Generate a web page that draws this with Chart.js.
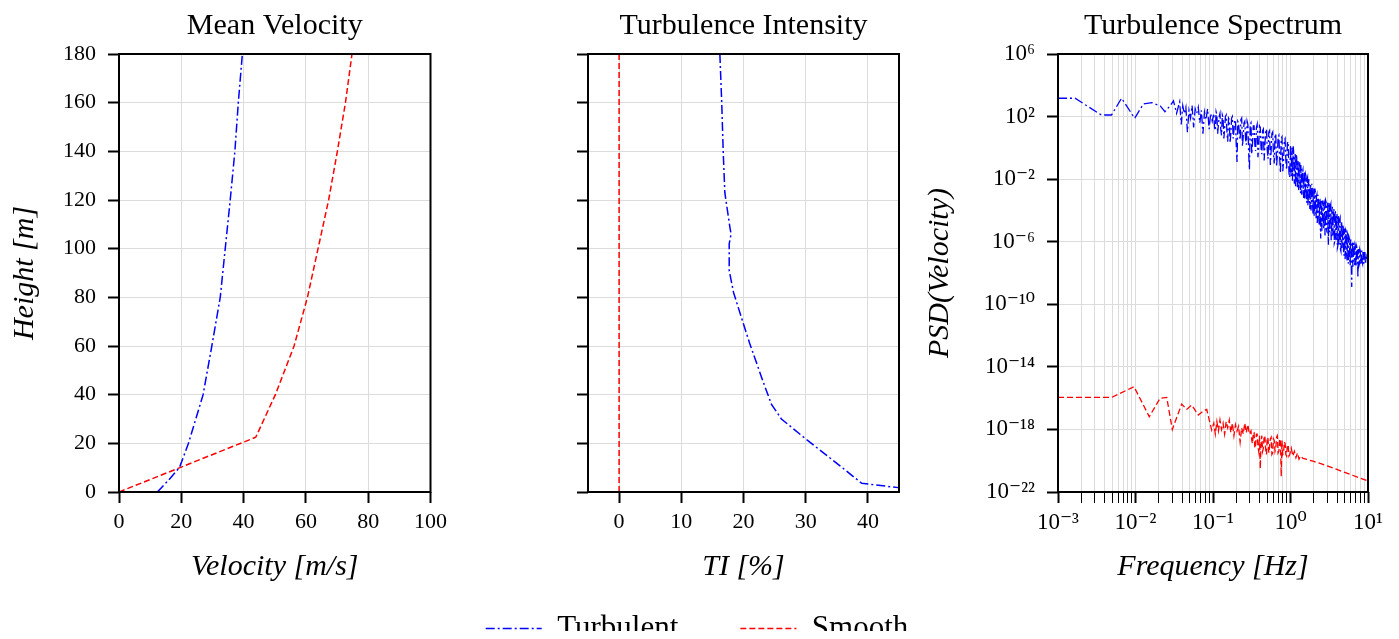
<!DOCTYPE html>
<html>
<head>
<meta charset="utf-8">
<title>Wind profiles</title>
<script src="https://cdn.jsdelivr.net/npm/chart.js@4.4.0/dist/chart.umd.min.js"></script>
<style>
  html, body { margin: 0; padding: 0; background: #fff; }
  #wrap { position: relative; width: 1399px; height: 639px; overflow: hidden; }
  canvas { position: absolute; }
</style>
</head>
<body>
<div id="wrap">
  <canvas id="velChart" width="453" height="589" style="left:0;top:0"></canvas>
  <canvas id="tiChart" width="450" height="589" style="left:470px;top:0"></canvas>
  <canvas id="psdChart" width="499" height="589" style="left:900px;top:0"></canvas>
  <canvas id="legendChart" width="640" height="160" style="left:377px;top:551px"></canvas>
</div>
<script>
// --- mean velocity profiles ---
const turbHeight = [0, 5, 10, 20, 40, 60, 80, 100, 120, 140, 160, 180];
const turbVelocity = [12.3, 16.0, 19.4, 22.3, 27.0, 29.8, 32.5, 34.1, 35.7, 37.2, 38.3, 39.6];
const smoothHeight = [0, 22.5, 40, 60, 80, 100, 120, 140, 160, 180];
const smoothVelocity = [0, 43.9, 50.2, 56.2, 60.5, 63.9, 67.3, 70.1, 72.7, 74.8];

// --- turbulence intensity ---
const tiTurbHeight = [180, 160, 139, 123, 109, 106, 102, 91, 82, 69, 61, 45, 36, 30, 21.4, 11.8, 3.6, 1.8];
const tiTurb = [16.2, 16.5, 16.75, 17.0, 17.8, 18.0, 17.7, 17.7, 18.4, 20.0, 21.0, 23.2, 24.5, 26.1, 30.2, 35.0, 39.0, 44.9];
const tiSmoothHeight = [0, 180];
const tiSmooth = [0, 0];

// --- spectrum, stored as log10(frequency) and log10(PSD) ---
const turbLogFreq = [
  -3.0, -2.78, -2.44, -2.31, -2.18, -2.01, -1.9, -1.79, -1.68, -1.62, -1.555, -1.51, -1.47, -1.43,
  -1.41, -1.39, -1.37, -1.35, -1.33, -1.31, -1.29, -1.27, -1.25, -1.23,
  -1.21, -1.19, -1.17, -1.15, -1.13, -1.11, -1.09, -1.07, -1.05, -1.03, -1.01,
  -0.99, -0.98, -0.97, -0.96, -0.95, -0.94, -0.93, -0.92, -0.91, -0.90,
  -0.89, -0.88, -0.87, -0.86, -0.85, -0.84, -0.83, -0.82, -0.81, -0.80,
  -0.79, -0.78, -0.77, -0.76, -0.75, -0.74, -0.73, -0.72, -0.71, -0.70,
  -0.69, -0.68, -0.67, -0.66, -0.65, -0.64, -0.63, -0.62, -0.61, -0.60,
  -0.59, -0.58, -0.57, -0.56, -0.55, -0.54, -0.53, -0.52, -0.51, -0.50,
  -0.49, -0.48, -0.47, -0.46, -0.45, -0.44, -0.43, -0.42, -0.41, -0.40,
  -0.39, -0.38, -0.37, -0.36, -0.35, -0.34, -0.33, -0.32, -0.31, -0.30,
  -0.29, -0.28, -0.27, -0.26, -0.25, -0.24, -0.23, -0.22, -0.21, -0.20,
  -0.19, -0.18, -0.17, -0.16, -0.15, -0.14, -0.13, -0.12, -0.11, -0.10,
  -0.09, -0.08, -0.07, -0.06, -0.05, -0.04, -0.03, -0.02, -0.01,
  0.000, 0.005, 0.010, 0.015, 0.020, 0.025, 0.030, 0.035, 0.040, 0.045,
  0.050, 0.055, 0.060, 0.065, 0.070, 0.075, 0.080, 0.085, 0.090, 0.095,
  0.100, 0.105, 0.110, 0.115, 0.120, 0.125, 0.130, 0.135, 0.140, 0.145,
  0.150, 0.155, 0.160, 0.165, 0.170, 0.175, 0.180, 0.185, 0.190, 0.195,
  0.200, 0.205, 0.210, 0.215, 0.220, 0.225, 0.230, 0.235, 0.240, 0.245,
  0.250, 0.255, 0.260, 0.265, 0.270, 0.275, 0.280, 0.285, 0.290, 0.295,
  0.300, 0.305, 0.310, 0.315, 0.320, 0.325, 0.330, 0.335, 0.340, 0.345,
  0.350, 0.355, 0.360, 0.365, 0.370, 0.375, 0.380, 0.385, 0.390, 0.395,
  0.400, 0.405, 0.410, 0.415, 0.420, 0.425, 0.430, 0.435, 0.440, 0.445,
  0.450, 0.455, 0.460, 0.465, 0.470, 0.475, 0.480, 0.485, 0.490, 0.495,
  0.500, 0.505, 0.510, 0.515, 0.520, 0.525, 0.530, 0.535, 0.540, 0.545,
  0.550, 0.555, 0.560, 0.565, 0.570, 0.575, 0.580, 0.585, 0.590, 0.595,
  0.600, 0.605, 0.610, 0.615, 0.620, 0.625, 0.630, 0.635, 0.640, 0.645,
  0.650, 0.655, 0.660, 0.665, 0.670, 0.675, 0.680, 0.685, 0.690, 0.695,
  0.700, 0.705, 0.710, 0.715, 0.720, 0.725, 0.730, 0.735, 0.740, 0.745,
  0.750, 0.755, 0.760, 0.765, 0.770, 0.775, 0.780, 0.785, 0.790, 0.795,
  0.800, 0.805, 0.810, 0.815, 0.820, 0.825, 0.830, 0.835, 0.840, 0.845,
  0.850, 0.855, 0.860, 0.865, 0.870, 0.875, 0.880, 0.885, 0.890, 0.895,
  0.900, 0.905, 0.910, 0.915, 0.920, 0.925, 0.930, 0.935, 0.940, 0.945,
  0.950, 0.955, 0.960, 0.965, 0.970, 0.975, 0.980, 0.985, 0.990, 0.995,
  1.000
];
const turbLogPsd = [
  3.17, 3.17, 2.10, 2.10, 3.17, 1.89, 2.80, 2.89, 2.68, 2.31, 2.68, 3.01, 2.21, 2.95,
  1.5, 2.7, 2.2, 2.6, 1.0, 2.4, 1.9, 2.7, 1.3, 2.5,
  2.2, 2.6, 1.6, 2.4, 0.9, 2.3, 1.8, 2.5, 1.2, 2.2, 1.7,
  2.2, 1.3, 1.1, 2.3, 2.1, 0.9, 1.5, 2.0, 2.2, 1.2,
  0.8, 2.1, 1.9, 0.6, 1.2, 2.0, 2.1, 1.0, 0.4, 1.9,
  1.8, 0.3, 0.9, 1.9, 2.0, 0.6, 1.1, 1.8, 1.7, 0.2,
  -0.9, 1.7, 1.6, 0.9, 0.5, 1.8, 1.9, 0.1, 0.7, 1.6,
  1.7, 0.6, 0.2, 1.7, 1.5, -0.3, -1.4, 1.5, 1.6, -0.4,
  0.3, 1.4, 1.4, 0.2, -0.2, 1.3, 1.5, -0.6, 0.1, 1.4,
  1.3, 0.0, -0.4, 1.1, 1.2, -0.8, 0.2, 1.1, 1.2, -0.1,
  -0.7, 1.0, 1.1, -1.1, -0.2, 0.9, 1.0, -0.4, -1.0, 0.8,
  0.9, -1.2, -0.5, 0.7, 0.8, -0.6, -1.6, 0.6, 0.7, -1.5,
  -0.9, 0.5, 0.6, -0.8, -1.4, 0.3, 0.4, -1.6, -1.9,
  0.2, -1.5, -1.8, -0.3, 0.0, -2.1, -1.2, 0.1, -0.2, -1.7,
  -2.3, -0.7, -0.4, -2.5, -1.9, -0.4, -0.6, -2.0, -2.6, -1.0,
  -0.8, -2.7, -2.2, -0.9, -1.0, -2.4, -2.9, -1.1, -1.3, -3.0,
  -2.5, -1.5, -1.4, -2.7, -3.2, -1.5, -1.6, -3.3, -2.8, -1.7,
  -1.8, -3.0, -3.5, -2.0, -1.9, -3.7, -3.1, -2.0, -2.2, -3.4,
  -3.9, -2.4, -2.3, -4.0, -3.4, -2.3, -2.5, -3.6, -4.2, -2.7,
  -2.6, -4.4, -3.7, -2.6, -2.8, -4.1, -4.5, -3.1, -3.0, -4.8,
  -4.1, -3.0, -3.2, -4.5, -4.9, -3.3, -3.3, -5.0, -5.8, -3.3,
  -3.4, -5.3, -4.6, -3.4, -3.4, -4.9, -5.2, -3.6, -3.5, -5.6,
  -4.8, -3.4, -3.5, -5.1, -5.4, -3.7, -3.5, -5.5, -6.2, -3.5,
  -3.6, -5.4, -5.0, -3.7, -3.6, -5.9, -5.7, -3.8, -3.8, -5.6,
  -5.2, -3.9, -3.9, -6.1, -6.0, -4.0, -4.1, -5.9, -5.5, -4.3,
  -4.2, -6.4, -6.3, -4.3, -4.4, -6.2, -5.8, -4.6, -4.5, -6.5,
  -6.6, -4.7, -4.8, -6.4, -6.1, -4.9, -5.0, -6.7, -6.9, -5.2,
  -5.2, -7.1, -6.4, -5.3, -5.4, -6.9, -7.2, -5.5, -5.6, -7.4,
  -6.8, -5.7, -5.8, -7.2, -7.5, -5.9, -5.9, -7.4, -8.9, -6.0,
  -6.1, -7.6, -7.2, -6.1, -6.1, -7.3, -7.5, -6.2, -6.3, -7.6,
  -7.1, -6.3, -6.4, -7.2, -8.3, -6.5, -6.5, -7.5, -7.4, -6.5,
  -6.6, -7.4, -7.3, -6.6, -6.6, -7.3, -7.4, -6.7, -6.7, -7.4,
  -7.2, -6.7, -6.7, -7.3, -7.3, -6.8, -6.8, -7.2, -7.1, -6.9,
  -6.9
];
const smoothLogFreq = [
  -3.0, -2.307, -2.019, -1.822, -1.684, -1.597, -1.525, -1.404, -1.339, -1.275, -1.19, -1.12, -1.081, -1.017,
  -0.99, -0.97, -0.95, -0.93, -0.91, -0.89, -0.87, -0.85, -0.83, -0.81,
  -0.79, -0.77, -0.75, -0.73, -0.71, -0.69, -0.67, -0.65, -0.63, -0.61,
  -0.59, -0.57, -0.55, -0.53,
  -0.51, -0.50, -0.49, -0.48, -0.47, -0.46, -0.45, -0.44, -0.43, -0.42,
  -0.41, -0.40, -0.39, -0.38, -0.37, -0.36, -0.35, -0.34, -0.33, -0.32,
  -0.31, -0.30, -0.29, -0.28, -0.27, -0.26, -0.25, -0.24, -0.23, -0.22,
  -0.21, -0.20, -0.19, -0.18, -0.17, -0.16, -0.15, -0.14, -0.13, -0.12,
  -0.11, -0.10, -0.09, -0.08, -0.07, -0.06, -0.05, -0.04, -0.03, -0.02, -0.01,
  0.01, 0.03, 0.05, 0.07, 0.09, 0.11, 0.13, 0.16, 0.2, 0.3, 0.4, 0.5, 0.6, 0.7, 0.8, 0.9, 1.0
];
const smoothLogPsd = [
  -15.95, -15.95, -15.27, -17.19, -16.01, -15.95, -18.0, -16.38, -16.72, -16.44, -17.08, -16.8, -16.72, -18.04,
  -17.6, -18.3, -17.5, -18.1, -17.4, -18.0, -17.6, -18.3, -17.5, -17.9,
  -17.4, -18.2, -17.6, -18.4, -17.7, -18.1, -17.8, -18.8, -17.9, -18.3,
  -17.6, -18.2, -17.7, -18.3,
  -18.1, -18.7, -18.9, -18.2, -18.2, -19.2, -19.0, -18.3, -18.3, -19.1,
  -19.4, -18.4, -20.5, -18.9, -18.4, -19.4, -19.2, -18.4, -18.5, -19.3,
  -19.6, -18.5, -18.6, -19.5, -19.1, -18.6, -18.5, -19.6, -19.5, -18.6,
  -18.7, -19.4, -19.2, -18.5, -18.4, -19.5, -19.4, -18.7, -18.6, -21.0,
  -18.7, -19.6, -19.5, -18.8, -18.9, -19.6, -19.7, -19.0, -19.0, -19.7, -19.6,
  -19.2, -19.7, -19.4, -19.8, -19.5, -19.9, -19.7, -19.85, -19.9, -20.05, -20.2, -20.38, -20.56, -20.75, -20.93, -21.12, -21.3
];

// --- axis ticks ---
const heightTicks = [0, 20, 40, 60, 80, 100, 120, 140, 160, 180];
const velocityTicks = [0, 20, 40, 60, 80, 100];
const tiTicks = [0, 10, 20, 30, 40];
const freqMajorTicks = [1e-3, 1e-2, 1e-1, 1, 10];
const psdTicks = [1e-22, 1e-18, 1e-14, 1e-10, 1e-6, 1e-2, 1e2, 1e6];

const freqTicks = [];
freqMajorTicks.forEach((m, i) => {
  freqTicks.push(m);
  if (i < freqMajorTicks.length - 1) [2, 3, 4, 5, 6, 7, 8, 9].forEach(k => freqTicks.push(k * m));
});

const SUP = {'-': '\u207B', '0': '\u2070', '1': '\u00B9', '2': '\u00B2', '3': '\u00B3', '4': '\u2074',
             '5': '\u2075', '6': '\u2076', '7': '\u2077', '8': '\u2078', '9': '\u2079'};
const isDecade = v => Math.abs(Math.log10(v) - Math.round(Math.log10(v))) < 1e-9;
const powLabel = v => '10' + String(Math.round(Math.log10(v))).split('').map(c => SUP[c]).join('');

const SERIF = "'Liberation Serif', 'DejaVu Serif', serif";
Chart.defaults.font.family = SERIF;
Chart.defaults.color = '#000';

const turbStyle = { borderColor: '#0000ff', borderWidth: 1.5, borderDash: [9, 3, 2, 3], pointRadius: 0, fill: false };
const smoothStyle = { borderColor: '#ff0000', borderWidth: 1.5, borderDash: [6, 3], pointRadius: 0, fill: false };

// black box around each plot area
const frame = {
  id: 'frame',
  afterDraw(chart) {
    const { ctx, chartArea: a } = chart;
    ctx.save();
    ctx.strokeStyle = '#000';
    ctx.lineWidth = 2;
    ctx.strokeRect(a.left, a.top, a.right - a.left, a.bottom - a.top);
    ctx.restore();
  }
};

const gridStyle = { color: '#dcdcdc', lineWidth: 1, tickColor: '#000', tickWidth: 2, tickLength: 11 };
const tickFont = { size: 22 };
const axisTitleFont = { size: 30, style: 'italic' };

function xAxis(type, min, max, ticks, title, extra) {
  return Object.assign({
    type, min, max,
    afterBuildTicks: s => { s.ticks = ticks.map(v => ({ value: v })); },
    afterFit: s => { s.height = 97; },
    grid: gridStyle,
    border: { display: false },
    ticks: { font: tickFont, padding: 6, maxRotation: 0, autoSkip: false },
    title: { display: true, text: title, font: axisTitleFont, padding: { top: 0, bottom: 4 } }
  }, extra || {});
}

function yAxis(type, min, max, ticks, width, title, titlePad, extra) {
  return Object.assign({
    type, min, max,
    afterBuildTicks: s => { s.ticks = ticks.map(v => ({ value: v })); },
    afterFit: s => { s.width = width; },
    grid: gridStyle,
    border: { display: false },
    ticks: { font: tickFont, padding: 12, autoSkip: false },
    title: { display: !!title, text: title, font: axisTitleFont, padding: { top: titlePad, bottom: 0 } }
  }, extra || {});
}

function baseOptions(title, padRight) {
  return {
    animation: false,
    responsive: false,
    devicePixelRatio: 1,
    layout: { padding: { left: 0, right: padRight, top: 0, bottom: 0 } },
    plugins: {
      legend: { display: false },
      tooltip: { enabled: false },
      title: {
        display: true, text: title, fullSize: false, color: '#000',
        font: { size: 30, weight: 'normal' }, padding: { top: 8, bottom: 10 }
      }
    }
  };
}

// Mean velocity
const velOpts = baseOptions('Mean Velocity', 20);
velOpts.scales = {
  x: xAxis('linear', 0, 100, velocityTicks, 'Velocity [m/s]'),
  y: yAxis('linear', 0, 180, heightTicks, 119, 'Height [m]', 7)
};
new Chart(document.getElementById('velChart'), {
  type: 'line',
  data: {
    datasets: [
      Object.assign({ label: 'Turbulent', data: turbHeight.map((h, i) => ({ x: turbVelocity[i], y: h })) }, turbStyle),
      Object.assign({ label: 'Smooth', data: smoothHeight.map((h, i) => ({ x: smoothVelocity[i], y: h })) }, smoothStyle)
    ]
  },
  options: velOpts,
  plugins: [frame]
});

// Turbulence intensity
const tiOpts = baseOptions('Turbulence Intensity', 21);
tiOpts.scales = {
  x: xAxis('linear', -5, 45, tiTicks, 'TI [%]'),
  y: yAxis('linear', 0, 180, heightTicks, 118, '', 0, {
    ticks: { display: false }
  })
};
new Chart(document.getElementById('tiChart'), {
  type: 'line',
  data: {
    datasets: [
      Object.assign({ label: 'Turbulent', data: tiTurbHeight.map((h, i) => ({ x: tiTurb[i], y: h })) }, turbStyle),
      Object.assign({ label: 'Smooth', data: tiSmoothHeight.map((h, i) => ({ x: tiSmooth[i], y: h })) }, smoothStyle)
    ]
  },
  options: tiOpts,
  plugins: [frame]
});

// Turbulence spectrum
const psdTickFont = { size: 23 };
const psdOpts = baseOptions('Turbulence Spectrum', 31);
psdOpts.scales = {
  x: xAxis('logarithmic', 1e-3, 10, freqTicks, 'Frequency [Hz]', {
    grid: Object.assign({}, gridStyle, { tickWidth: c => (c.tick && isDecade(c.tick.value)) ? 2 : 1 }),
    ticks: { font: psdTickFont, padding: 6, maxRotation: 0, autoSkip: false,
             callback: v => isDecade(v) ? powLabel(v) : '' }
  }),
  y: yAxis('logarithmic', 1e-22, 1e6, psdTicks, 158, 'PSD(Velocity)', 22, {
    ticks: { font: psdTickFont, padding: 12, autoSkip: false, callback: v => powLabel(v) }
  })
};
new Chart(document.getElementById('psdChart'), {
  type: 'line',
  data: {
    datasets: [
      Object.assign({ label: 'Turbulent', data: turbLogFreq.map((f, i) => ({ x: 10 ** f, y: 10 ** turbLogPsd[i] })) },
                    turbStyle, { borderWidth: 1.3 }),
      Object.assign({ label: 'Smooth', data: smoothLogFreq.map((f, i) => ({ x: 10 ** f, y: 10 ** smoothLogPsd[i] })) },
                    smoothStyle, { borderWidth: 1.3 })
    ]
  },
  options: psdOpts,
  plugins: [frame]
});

// Shared legend
new Chart(document.getElementById('legendChart'), {
  type: 'line',
  data: {
    datasets: [
      Object.assign({ label: 'Turbulent', data: [] }, turbStyle),
      Object.assign({ label: 'Smooth', data: [] }, smoothStyle)
    ]
  },
  options: {
    animation: false,
    responsive: false,
    devicePixelRatio: 1,
    scales: { x: { display: false }, y: { display: false } },
    plugins: {
      tooltip: { enabled: false },
      legend: {
        position: 'top',
        labels: {
          font: { size: 31 },
          color: '#000',
          usePointStyle: true,
          pointStyleWidth: 56,
          padding: 62,
          generateLabels: chart => chart.data.datasets.map((ds, i) => ({
            text: ds.label,
            strokeStyle: ds.borderColor,
            fillStyle: 'rgba(0,0,0,0)',
            lineWidth: ds.borderWidth,
            lineDash: ds.borderDash,
            pointStyle: 'line',
            fontColor: '#000',
            hidden: false,
            datasetIndex: i
          }))
        }
      }
    }
  }
});
</script>
</body>
</html>
